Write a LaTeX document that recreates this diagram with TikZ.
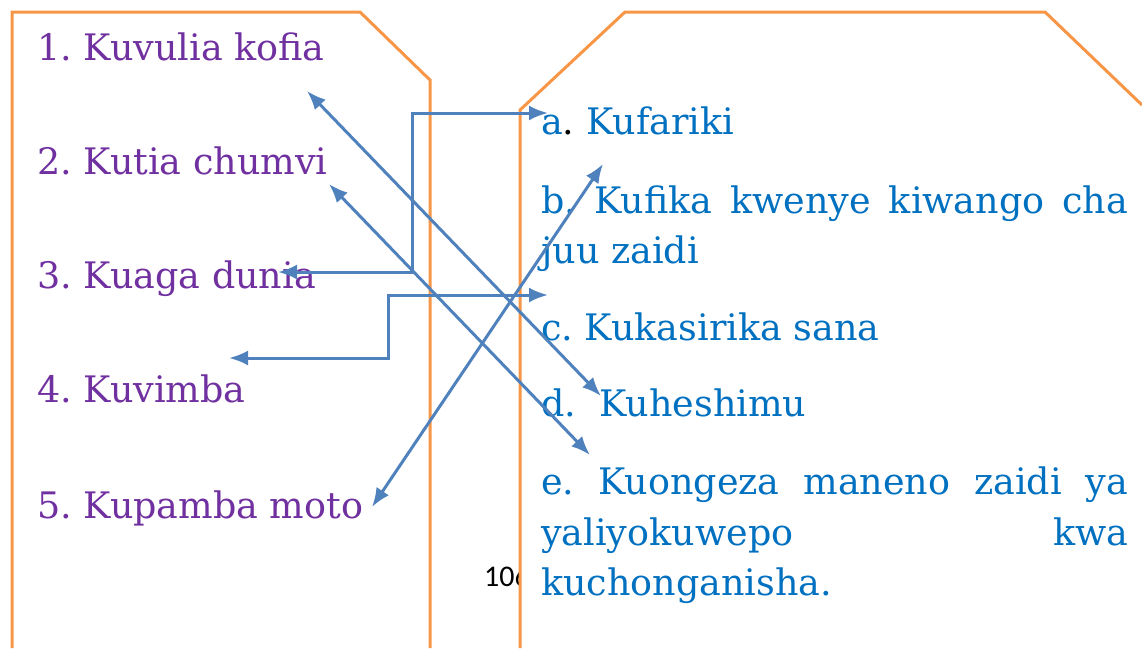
\documentclass[tikz,border=0pt]{standalone}
\usepackage{fontspec}
\setmainfont{DejaVu Serif}
\newfontfamily\pagefont{Carlito}
\usetikzlibrary{arrows.meta}
\definecolor{ukingo}{HTML}{F79646}
\definecolor{swali}{HTML}{7030A0}
\definecolor{jibu}{HTML}{0070C0}
\definecolor{mshale}{HTML}{4F81BD}
\frenchspacing

\begin{document}
\begin{tikzpicture}[x=1pt,y=-1pt,
  neno/.style={anchor=base west,inner sep=0pt,font=\fontsize{36.5}{40}\selectfont},
  link/.style={draw=mshale,line width=3pt,{Latex[length=19pt,width=15pt]}-{Latex[length=19pt,width=15pt]}}]
  \useasboundingbox (0,0) rectangle (1142,648);
  \draw[ukingo,line width=3pt] (12,648) -- (12,12) -- (360,12) -- (430,80) -- (430,648);
  \node[anchor=base west,inner sep=0pt,font=\pagefont\fontsize{30}{34}\selectfont] (ukurasa) at (484,586) {106};
  \fill[white] (520,648) -- (520,110) -- (625,12) -- (1045,12) -- (1142,105) -- (1142,648) -- cycle;
  \draw[ukingo,line width=3pt] (520,648) -- (520,110) -- (625,12) -- (1045,12) -- (1142,105);

  \node[neno,swali] (l1) at (37,60) {1. Kuvulia kofia};
  \node[neno,swali] (l2) at (37,174) {2. Kutia chumvi};
  \node[neno,swali] (l3) at (37,288) {3. Kuaga dunia};
  \node[neno,swali] (l4) at (37,402) {4. Kuvimba};
  \node[neno,swali] (l5) at (37,518) {5. Kupamba moto};

  \node[neno,jibu] (ra) at (541,134) {a\textcolor{black}{.} Kufariki};
  \node[neno,jibu] (rb1) at (541,213) {\makebox[587pt][s]{b. Kufika kwenye kiwango cha}};
  \node[neno,jibu] (rb2) at (541,263) {juu zaidi};
  \node[neno,jibu] (rc) at (541,340) {c. Kukasirika sana};
  \node[neno,jibu] (rd) at (541,416) {d.\ \ Kuheshimu};
  \node[neno,jibu] (re1) at (541,494) {\makebox[587pt][s]{e. Kuongeza maneno zaidi ya}};
  \node[neno,jibu] (re2) at (541,545) {\makebox[587pt][s]{yaliyokuwepo kwa}};
  \node[neno,jibu] (re3) at (541,595) {kuchonganisha.};

  \coordinate (k1) at (307,91);
  \coordinate (k2) at (329,184);
  \coordinate (k3) at (278,272);
  \coordinate (k4) at (229,358);
  \coordinate (k5) at (372,507);
  \coordinate (ka) at (548,113);
  \coordinate (kb) at (603,164);
  \coordinate (kc) at (548,295);
  \coordinate (kd) at (601,396);
  \coordinate (ke) at (590,455);

  \draw[link] (k3) -- ++(134,0) |- (ka);
  \draw[link] (k4) -- ++(159,0) |- (kc);
  \draw[link] (k1) -- (kd);
  \draw[link] (k2) -- (ke);
  \draw[link] (k5) -- (kb);
\end{tikzpicture}
\end{document}
